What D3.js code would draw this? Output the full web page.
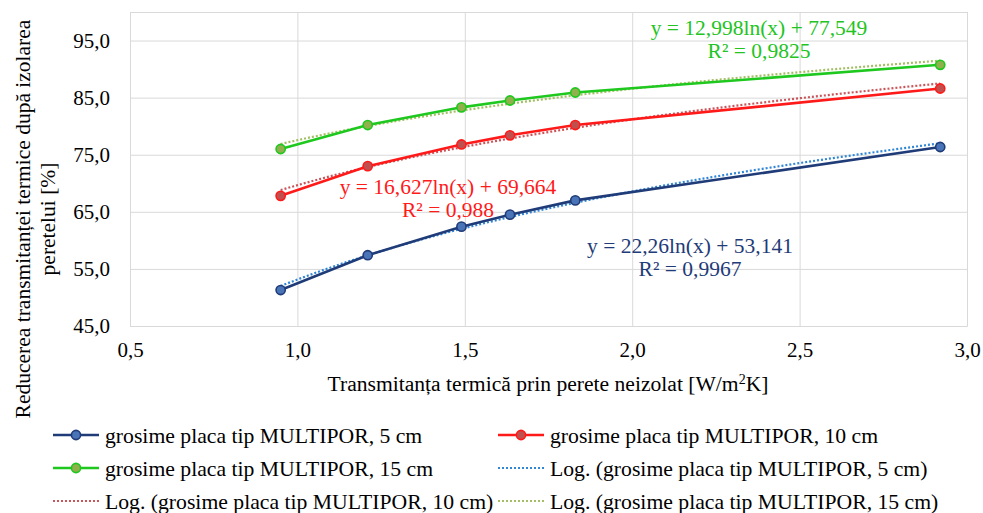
<!DOCTYPE html>
<html>
<head>
<meta charset="utf-8">
<script src="https://cdn.jsdelivr.net/npm/d3@7"></script>
<style>
  body { margin: 0; background: #fff; }
  svg text { font-family: "Liberation Serif", "Times New Roman", "DejaVu Serif", serif; }
</style>
</head>
<body>
<svg id="chart" width="983" height="513"></svg>
<script>
// data
const xValues = [0.95, 1.21, 1.49, 1.635, 1.83, 2.92];
const seriesNames = [
  "grosime placa tip MULTIPOR, 5 cm",
  "grosime placa tip MULTIPOR, 10 cm",
  "grosime placa tip MULTIPOR, 15 cm"
];
const values5 = [51.3, 57.4, 62.4, 64.5, 67.0, 76.35];
const values10 = [67.8, 73.0, 76.8, 78.4, 80.2, 86.6];
const values15 = [76.0, 80.2, 83.3, 84.5, 85.9, 90.75];
// trendline coefficients y = a*ln(x) + b, from the labels
const trendA = [22.26, 16.627, 12.998];
const trendB = [53.141, 69.664, 77.549];
const r2Labels = ["0,9967", "0,988", "0,9825"];
const eqLabels = [
  "y = 22,26ln(x) + 53,141",
  "y = 16,627ln(x) + 69,664",
  "y = 12,998ln(x) + 77,549"
];
const xTicks = [0.5, 1.0, 1.5, 2.0, 2.5, 3.0];
const yTicks = [45, 55, 65, 75, 85, 95];

const lineColors = ["#1f3b78", "#ff1a1a", "#1ec81e"];
const markerFill = ["#4a74b8", "#c0504d", "#8fb04a"];
const trendColors = ["#2f86d6", "#c9545a", "#a3be63"];
const labelColors = ["#1f3b78", "#ff1a1a", "#22c422"];

const serif = "'Liberation Serif', 'Times New Roman', serif";
const svg = d3.select("#chart").attr("font-family", serif);
const plotLeft = 130, plotRight = 967, plotTop = 12, plotBottom = 326;

const x = d3.scaleLinear().domain([0.5, 3.0]).range([plotLeft, plotRight]);
const y = d3.scaleLinear().domain([45, 100]).range([plotBottom, plotTop]);
const fmt = (d) => d3.format(".1f")(d).replace(".", ",");

// grid
svg.append("g")
  .attr("transform", `translate(0, ${plotBottom})`)
  .call(d3.axisBottom(x).tickValues(xTicks).tickSize(-(plotBottom - plotTop)).tickFormat(fmt).tickPadding(16))
  .attr("font-family", serif)
  .call((g) => g.select(".domain").attr("stroke", "#d9d9d9"))
  .call((g) => g.selectAll(".tick line").attr("stroke", "#d9d9d9"))
  .call((g) => g.selectAll(".tick text").attr("font-size", 21).attr("fill", "#000"));

svg.append("g")
  .attr("transform", `translate(${plotLeft}, 0)`)
  .call(d3.axisLeft(y).tickValues(yTicks).tickSize(-(plotRight - plotLeft)).tickFormat(fmt).tickPadding(20))
  .attr("font-family", serif)
  .call((g) => g.select(".domain").attr("stroke", "#d9d9d9"))
  .call((g) => g.selectAll(".tick line").attr("stroke", "#d9d9d9"))
  .call((g) => g.selectAll(".tick text").attr("font-size", 21).attr("fill", "#000"));

const allSeries = [values5, values10, values15];

const line = d3.line().x((d, i) => x(xValues[i])).y((d) => y(d));

// trendlines
allSeries.forEach((vals, s) => {
  const x0 = xValues[0], x1 = xValues[xValues.length - 1];
  const xs = d3.range(0, 101).map((k) => x0 + (x1 - x0) * k / 100);
  const trend = d3.line().x((d) => x(d)).y((d) => y(trendA[s] * Math.log(d) + trendB[s]));
  svg.append("path")
    .datum(xs)
    .attr("d", trend)
    .attr("fill", "none")
    .attr("stroke", trendColors[s])
    .attr("stroke-width", 2.2)
    .attr("stroke-dasharray", "2,2");
});

// series
allSeries.forEach((vals, s) => {
  svg.append("path")
    .datum(vals)
    .attr("d", line)
    .attr("fill", "none")
    .attr("stroke", lineColors[s])
    .attr("stroke-width", 2.6);
  svg.append("g")
    .selectAll("circle")
    .data(vals)
    .join("circle")
    .attr("cx", (d, i) => x(xValues[i]))
    .attr("cy", (d) => y(d))
    .attr("r", 4.6)
    .attr("fill", markerFill[s])
    .attr("stroke", lineColors[s])
    .attr("stroke-width", 1.6);
});

// equation labels
const labelPos = [[690, 245], [448, 186], [759, 27]];
labelPos.forEach(([lx, ly], s) => {
  const t = svg.append("text")
    .attr("x", lx)
    .attr("y", ly)
    .attr("text-anchor", "middle")
    .attr("font-size", 21.5)
    .attr("fill", labelColors[s]);
  t.append("tspan").attr("x", lx).attr("dy", "0.35em").text(eqLabels[s]);
  t.append("tspan").attr("x", lx).attr("dy", "1.1em").text("R² = " + r2Labels[s]);
});

// axis titles
svg.append("text")
  .attr("x", 548)
  .attr("y", 383)
  .attr("dy", "0.35em")
  .attr("text-anchor", "middle")
  .attr("font-size", 21.6)
  .html("Transmitanța termică prin perete neizolat [W/m<tspan dy='-7' font-size='14'>2</tspan><tspan dy='7'>K]</tspan>");

const yt = svg.append("text")
  .attr("transform", "translate(22, 219) rotate(-90)")
  .attr("text-anchor", "middle")
  .attr("font-size", 21.5);
yt.append("tspan").attr("x", 0).attr("dy", "0.35em").text("Reducerea transmitanței termice după izolarea");
yt.append("tspan").attr("x", 0).attr("dy", "1.2em").text("peretelui [%]");

// legend
const legendItems = [
  { name: seriesNames[0], color: lineColors[0], fill: markerFill[0], dotted: false },
  { name: seriesNames[1], color: lineColors[1], fill: markerFill[1], dotted: false },
  { name: seriesNames[2], color: lineColors[2], fill: markerFill[2], dotted: false },
  { name: "Log. (" + seriesNames[0] + ")", color: trendColors[0], dotted: true },
  { name: "Log. (" + seriesNames[1] + ")", color: trendColors[1], dotted: true },
  { name: "Log. (" + seriesNames[2] + ")", color: trendColors[2], dotted: true }
];
const colX = [53, 498];
const rowY = [435, 468, 501];
legendItems.forEach((item, i) => {
  const lx = colX[i % 2];
  const ly = rowY[Math.floor(i / 2)];
  const g = svg.append("g").attr("transform", `translate(${lx}, ${ly})`);
  g.append("line")
    .attr("x1", 0).attr("x2", 46)
    .attr("stroke", item.color)
    .attr("stroke-width", item.dotted ? 2 : 2.6)
    .attr("stroke-dasharray", item.dotted ? "2,2" : null);
  if (!item.dotted) {
    g.append("circle").attr("cx", 23).attr("r", 4.6)
      .attr("fill", item.fill).attr("stroke", item.color).attr("stroke-width", 1.6);
  }
  g.append("text")
    .attr("x", 52)
    .attr("dy", "0.35em")
    .attr("font-size", 21.7)
    .text(item.name);
});
</script>
</body>
</html>
